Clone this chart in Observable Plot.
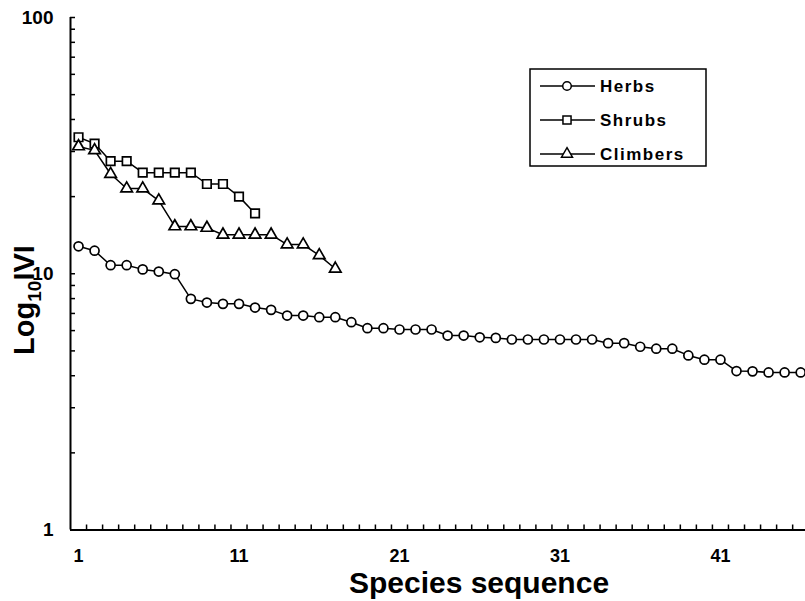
<!DOCTYPE html>
<html>
<head>
<meta charset="utf-8">
<script src="https://cdn.jsdelivr.net/npm/d3@7"></script>
<script src="https://cdn.jsdelivr.net/npm/@observablehq/plot@0.6"></script>
<style>
  html, body { margin: 0; padding: 0; background: #fff; }
  #chart { width: 805px; height: 601px; overflow: hidden; }
  #chart svg { display: block; }
</style>
</head>
<body>
<div id="chart"></div>
<script>
// ---- Data ----
const seriesNames = ["Herbs", "Shrubs", "Climbers"];
const herbs = [12.8, 12.3, 10.8, 10.8, 10.4, 10.2, 9.96, 7.98, 7.72, 7.63, 7.63, 7.38,
  7.23, 6.87, 6.87, 6.77, 6.77, 6.47, 6.13, 6.13, 6.06, 6.06, 6.06, 5.74, 5.74, 5.65,
  5.62, 5.54, 5.54, 5.54, 5.54, 5.54, 5.54, 5.36, 5.36, 5.19, 5.10, 5.10, 4.80, 4.62,
  4.62, 4.17, 4.16, 4.12, 4.12, 4.12];
const shrubs = [34.1, 32.2, 27.5, 27.5, 24.8, 24.8, 24.8, 24.8, 22.4, 22.4, 20.0, 17.2];
const climbers = [31.4, 30.3, 24.5, 21.5, 21.5, 19.3, 15.3, 15.3, 15.1, 14.2, 14.2, 14.2,
  14.2, 13.0, 13.0, 11.8, 10.46];
const xTickLabels = [1, 11, 21, 31, 41];
const yTickLabels = [1, 10, 100];

// ---- Build table ----
const seriesValues = {Herbs: herbs, Shrubs: shrubs, Climbers: climbers};
const rows = seriesNames.flatMap(name =>
  seriesValues[name].map((v, i) => ({series: name, seq: i + 1, ivi: v})));
const nCats = herbs.length;
const catBounds = d3.range(1, nCats + 1).map(i => i + 0.5);
const minorY = [1, 10].flatMap(d => d3.range(2, 10).map(k => d * k));

const W = 805, H = 601, mL = 70, mR = 0, mT = 17, mB = 71.5;
const innerW = W - mL - mR, innerH = H - mT - mB;
const FONT = "'Liberation Sans', Arial, Helvetica, sans-serif";

const symbolFor = {Herbs: "circle", Shrubs: "square", Climbers: "triangle"};
const d3SymbolFor = {Herbs: d3.symbolCircle, Shrubs: d3.symbolSquare, Climbers: d3.symbolTriangle};
const rFor = {Herbs: 4.5, Shrubs: 4.8, Climbers: 4.3};

const plot = Plot.plot({
  width: W, height: H,
  marginLeft: mL, marginRight: mR, marginTop: mT, marginBottom: mB,
  style: {background: "white", fontFamily: FONT, overflow: "visible", color: "black"},
  x: {type: "linear", domain: [0.5, 46.3]},
  y: {type: "log", domain: [1, 100]},
  marks: [
    Plot.tickY([...minorY, ...yTickLabels], {y: d => d, stroke: "black", strokeWidth: 1.5, insetRight: innerW - 5}),
    Plot.tickX(catBounds, {x: d => d, stroke: "black", strokeWidth: 1.5, insetTop: innerH - 5}),
    Plot.ruleX([0.5], {stroke: "black", strokeWidth: 2}),
    Plot.ruleY([1], {stroke: "black", strokeWidth: 2}),
    Plot.axisY({ticks: yTickLabels, tickSize: 0, tickPadding: 17, tickFormat: d => String(d),
      fontSize: 19, fontWeight: "bold", label: null}),
    Plot.axisX({ticks: xTickLabels, tickSize: 0, tickPadding: 19, tickFormat: d => String(d),
      fontSize: 18, fontWeight: "bold", label: null}),
    Plot.line(rows, {x: "seq", y: "ivi", z: "series", stroke: "black", strokeWidth: 1.5}),
    ...seriesNames.map(name => Plot.dot(rows, {
      filter: d => d.series === name, x: "seq", y: "ivi",
      symbol: symbolFor[name], r: rFor[name],
      fill: "white", stroke: "black", strokeWidth: 1.7
    }))
  ]
});

// ---- Axis titles and legend ----
const svg = d3.select(plot);
svg.append("text")
  .attr("x", 479).attr("y", 593)
  .attr("text-anchor", "middle")
  .attr("font-family", FONT).attr("font-size", 30).attr("font-weight", "bold")
  .attr("fill", "black")
  .text("Species sequence");

const yt = svg.append("text")
  .attr("transform", "translate(34,300) rotate(-90)")
  .attr("text-anchor", "middle")
  .attr("font-family", FONT).attr("font-size", 29).attr("font-weight", "bold")
  .attr("fill", "black");
yt.append("tspan").text("Log");
yt.append("tspan").attr("font-size", 19).attr("dy", 7).text("10");
yt.append("tspan").attr("dy", -7).text("IVI");

const lg = svg.append("g");
lg.append("rect").attr("x", 530).attr("y", 69).attr("width", 176).attr("height", 97)
  .attr("fill", "white").attr("stroke", "black").attr("stroke-width", 1.5);
seriesNames.forEach((name, i) => {
  const cy = 86 + i * 34;
  lg.append("line").attr("x1", 540).attr("x2", 595).attr("y1", cy).attr("y2", cy)
    .attr("stroke", "black").attr("stroke-width", 1.5);
  const rr = rFor[name] * 0.95;
  lg.append("path").attr("transform", `translate(567,${cy})`)
    .attr("d", d3.symbol(d3SymbolFor[name], rr * rr * Math.PI)())
    .attr("fill", "white").attr("stroke", "black").attr("stroke-width", 1.5);
  lg.append("text").attr("x", 600).attr("y", cy).attr("dy", "0.36em")
    .attr("text-anchor", "start")
    .attr("font-family", FONT).attr("font-size", 17).attr("font-weight", "bold")
    .attr("letter-spacing", 1.5).attr("fill", "black")
    .text(name);
});

document.getElementById("chart").appendChild(plot);
</script>
</body>
</html>
